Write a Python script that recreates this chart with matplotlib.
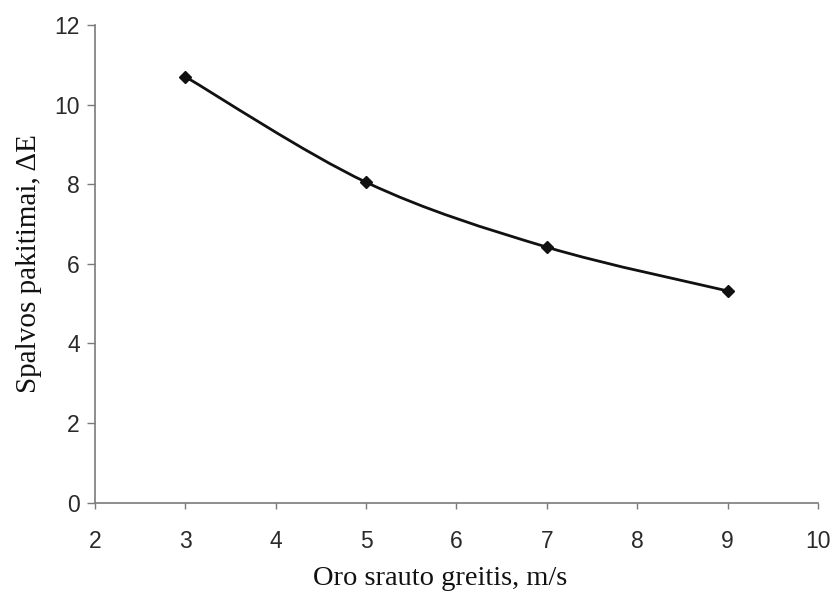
import matplotlib

matplotlib.use("Agg")
import matplotlib.pyplot as plt
from matplotlib.path import Path
from matplotlib.patches import PathPatch

# Oro srauto greitis (m/s) vs spalvos pakitimai (ΔE)
speed = [3, 5, 7, 9]
delta_e = [10.7, 8.05, 6.42, 5.32]

x_ticks = [2, 3, 4, 5, 6, 7, 8, 9, 10]
y_ticks = [0, 2, 4, 6, 8, 10, 12]

SANS = ["Liberation Sans", "DejaVu Sans"]
SERIF = ["Liberation Serif", "DejaVu Serif"]


def smooth_path(xs, ys, tension=1 / 6):
    """Cubic Bezier path through the points (spreadsheet-style smoothed line)."""
    verts = [(xs[0], ys[0])]
    codes = [Path.MOVETO]
    n = len(xs)
    for i in range(n - 1):
        x0, y0 = (xs[i - 1], ys[i - 1]) if i > 0 else (xs[i], ys[i])
        x1, y1 = xs[i], ys[i]
        x2, y2 = xs[i + 1], ys[i + 1]
        x3, y3 = (xs[i + 2], ys[i + 2]) if i + 2 < n else (x2, y2)
        c1 = (x1 + (x2 - x0) * tension, y1 + (y2 - y0) * tension)
        c2 = (x2 - (x3 - x1) * tension, y2 - (y3 - y1) * tension)
        verts += [c1, c2, (x2, y2)]
        codes += [Path.CURVE4] * 3
    return Path(verts, codes)


fig = plt.figure(figsize=(8.35, 5.91), dpi=100)
ax = fig.add_axes([0.1138, 0.1494, 0.8658, 0.8083])

ax.add_patch(PathPatch(smooth_path(speed, delta_e), facecolor="none",
                       edgecolor="#111111", linewidth=2.0, zorder=3))
ax.plot(speed, delta_e, linestyle="none", marker="D", markersize=6,
        color="#111111", zorder=4)

ax.set_xlim(2, 10)
ax.set_ylim(0, 12)
ax.set_xticks(x_ticks)
ax.set_yticks(y_ticks)

for side in ("top", "right"):
    ax.spines[side].set_visible(False)
for side in ("left", "bottom"):
    ax.spines[side].set_color("#7a7a7a")
    ax.spines[side].set_linewidth(1.2)

ax.tick_params(axis="y", length=6, width=1.0, color="#7a7a7a", pad=5,
               labelsize=16.5, labelcolor="#2a2a2a")
ax.tick_params(axis="x", length=4, width=1.0, color="#7a7a7a", pad=16,
               labelsize=16.5, labelcolor="#2a2a2a")
for lbl in ax.get_xticklabels() + ax.get_yticklabels():
    lbl.set_family(SANS)

ax.set_xlabel("Oro srauto greitis, m/s", family=SERIF, fontsize=20.5,
              color="#111111", labelpad=9)
ax.xaxis.label.set_x(0.478)
ax.set_ylabel("Spalvos pakitimai, ΔE", family=SERIF, fontsize=21,
              color="#111111", labelpad=9)

fig.savefig("out.png", dpi=100)
